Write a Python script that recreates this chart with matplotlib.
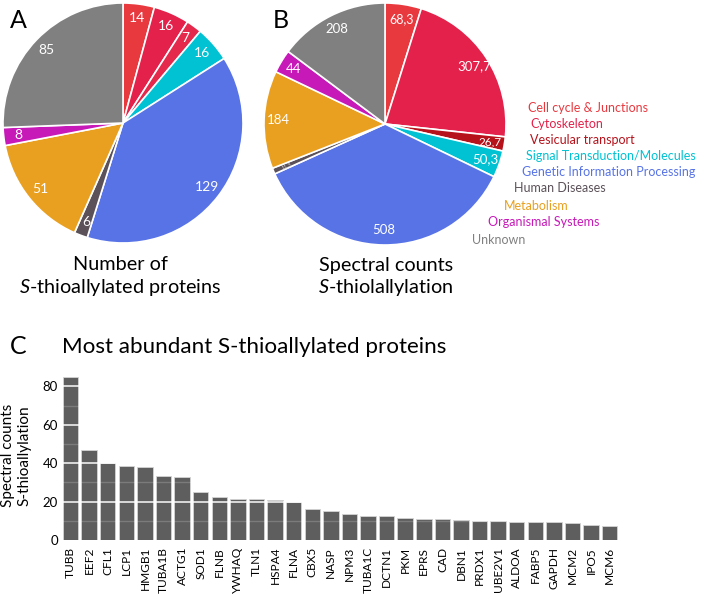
"""Pie charts of S-thioallylated protein categories + bar plot of most abundant proteins."""
import matplotlib
matplotlib.use("Agg")
import matplotlib.pyplot as plt
import numpy as np

plt.rcParams["font.family"] = ["Lato", "DejaVu Sans"]
plt.rcParams["mathtext.fontset"] = "custom"
plt.rcParams["mathtext.rm"] = "Lato"
plt.rcParams["mathtext.it"] = "Lato:italic"

# data
categories = ["Cell cycle & Junctions", "Cytoskeleton", "Vesicular transport",
              "Signal Transduction/Molecules", "Genetic Information Processing",
              "Human Diseases", "Metabolism", "Organismal Systems", "Unknown"]
cat_colors = ["#e8393f", "#e3214a", "#b5121b", "#00c2d2", "#5773e6",
              "#5b5158", "#e9a020", "#c718b8", "#808080"]
protein_counts = [14, 16, 7, 16, 129, 6, 51, 8, 85]
protein_labels = ["14", "16", "7", "16", "129", "6", "51", "8", "85"]
spectral_counts = [68.3, 307.7, 26.7, 50.3, 508, 11.3, 184, 44, 208]
spectral_labels = ["68,3", "307,7", "26,7", "50,3", "508", "11,3", "184", "44", "208"]

genes = ["TUBB", "EEF2", "CFL1", "LCP1", "HMGB1", "TUBA1B", "ACTG1", "SOD1", "FLNB",
         "YWHAQ", "TLN1", "HSPA4", "FLNA", "CBX5", "NASP", "NPM3", "TUBA1C", "DCTN1",
         "PKM", "EPRS", "CAD", "DBN1", "PRDX1", "UBE2V1", "ALDOA", "FABP5", "GAPDH",
         "MCM2", "IPO5", "MCM6"]
gene_counts = [85, 47, 40, 38.4, 38, 33.4, 32.7, 25, 22.5, 21.3, 21.3, 21, 19.6, 15.9,
               14.9, 13.7, 12.6, 12.3, 11.6, 10.7, 10.7, 10.2, 9.7, 9.7, 9.5, 9.5, 9.2,
               8.8, 7.9, 7.3]

W, H = 714, 595


def px_axes(fig, x0, y0, w, h):
    # axes from pixel box (top-left origin)
    return fig.add_axes([x0 / W, 1 - (y0 + h) / H, w / W, h / H])


def draw_pie(ax, values, labels, colors, sizes, dist=0.88):
    wedges, _ = ax.pie(values, colors=colors, startangle=90, counterclock=False,
                       radius=1, wedgeprops=dict(edgecolor="white", linewidth=1.2))
    for w, lab, fs in zip(wedges, labels, sizes):
        mid = (w.theta1 + w.theta2) / 2
        rot = 0
        col = "white"
        if fs < 6:
            rot = mid - 180
            col = "#cccccc"
        ax.text(dist * np.cos(np.deg2rad(mid)), dist * np.sin(np.deg2rad(mid)), lab,
                ha="center", va="center", fontsize=fs, color=col, rotation=rot)
    ax.set_xlim(-1, 1)
    ax.set_ylim(-1, 1)
    ax.set_aspect("equal")
    ax.axis("off")


fig = plt.figure(figsize=(W / 100, H / 100), dpi=100)

# panel A
ax_a = px_axes(fig, 3, 3, 240, 240)
colors_a = list(cat_colors)
colors_a[2] = "#e4294c"
draw_pie(ax_a, protein_counts, protein_labels, colors_a, [10] * 9)

# panel B
ax_b = px_axes(fig, 264, 3, 242, 242)
draw_pie(ax_b, spectral_counts, spectral_labels, cat_colors,
         [9, 9.5, 8.5, 9.5, 9.5, 4, 9.5, 9.5, 9.5])

# category legend, staggered along the pie edge
leg_x = [528, 530, 530, 526, 522, 514, 504, 488, 472]
leg_y = [108, 124, 140, 156, 172, 188.5, 205.5, 222.5, 240.5]
for name, col, x, y in zip(categories, cat_colors, leg_x, leg_y):
    fig.text(x / W, 1 - y / H, name, color=col, fontsize=9.0, ha="left", va="center")

fig.text(10 / W, 1 - 21 / H, "A", fontsize=18, va="center")
fig.text(273 / W, 1 - 21 / H, "B", fontsize=18, va="center")
fig.text(10 / W, 1 - 347 / H, "C", fontsize=18, va="center")

fig.text(120 / W, 1 - 265 / H, "Number of", fontsize=14.3, ha="center", va="center")
fig.text(120 / W, 1 - 287 / H, r"$\it{S}$-thioallylated proteins", fontsize=14.3,
         ha="center", va="center")
fig.text(386 / W, 1 - 265 / H, "Spectral counts", fontsize=14.3, ha="center", va="center")
fig.text(386 / W, 1 - 287 / H, r"$\it{S}$-thiolallylation", fontsize=14.3,
         ha="center", va="center")

fig.text(62 / W, 1 - 347 / H, "Most abundant S-thioallylated proteins", fontsize=16.1,
         va="center")

# panel C bars
ax_c = px_axes(fig, 62, 371, 557, 169)
x = np.arange(len(genes))
ax_c.bar(x, gene_counts, width=0.83, color="#5e5e5e", edgecolor="#d4d4d4",
         linewidth=0.6, zorder=1)
for v in [10, 30, 50, 70]:
    ax_c.axhline(v, color="white", alpha=0.18, linewidth=1, zorder=2)
for v in [20, 40, 60, 80]:
    ax_c.axhline(v, color="white", alpha=0.9, linewidth=1.2, zorder=2)
ax_c.set_xlim(-0.46, 29.5)
ax_c.set_ylim(0, 88)
ax_c.set_xticks(x)
ax_c.set_xticklabels(genes, rotation=90, fontsize=8.6)
ax_c.set_yticks([0, 20, 40, 60, 80])
ax_c.tick_params(axis="x", length=0, pad=5)
ax_c.tick_params(axis="y", length=0, pad=3, labelsize=9.5)
ax_c.set_ylabel("Spectral counts\nS-thioallylation", fontsize=11, labelpad=8)
for s in ax_c.spines.values():
    s.set_visible(False)

fig.savefig("out.png", dpi=100)
